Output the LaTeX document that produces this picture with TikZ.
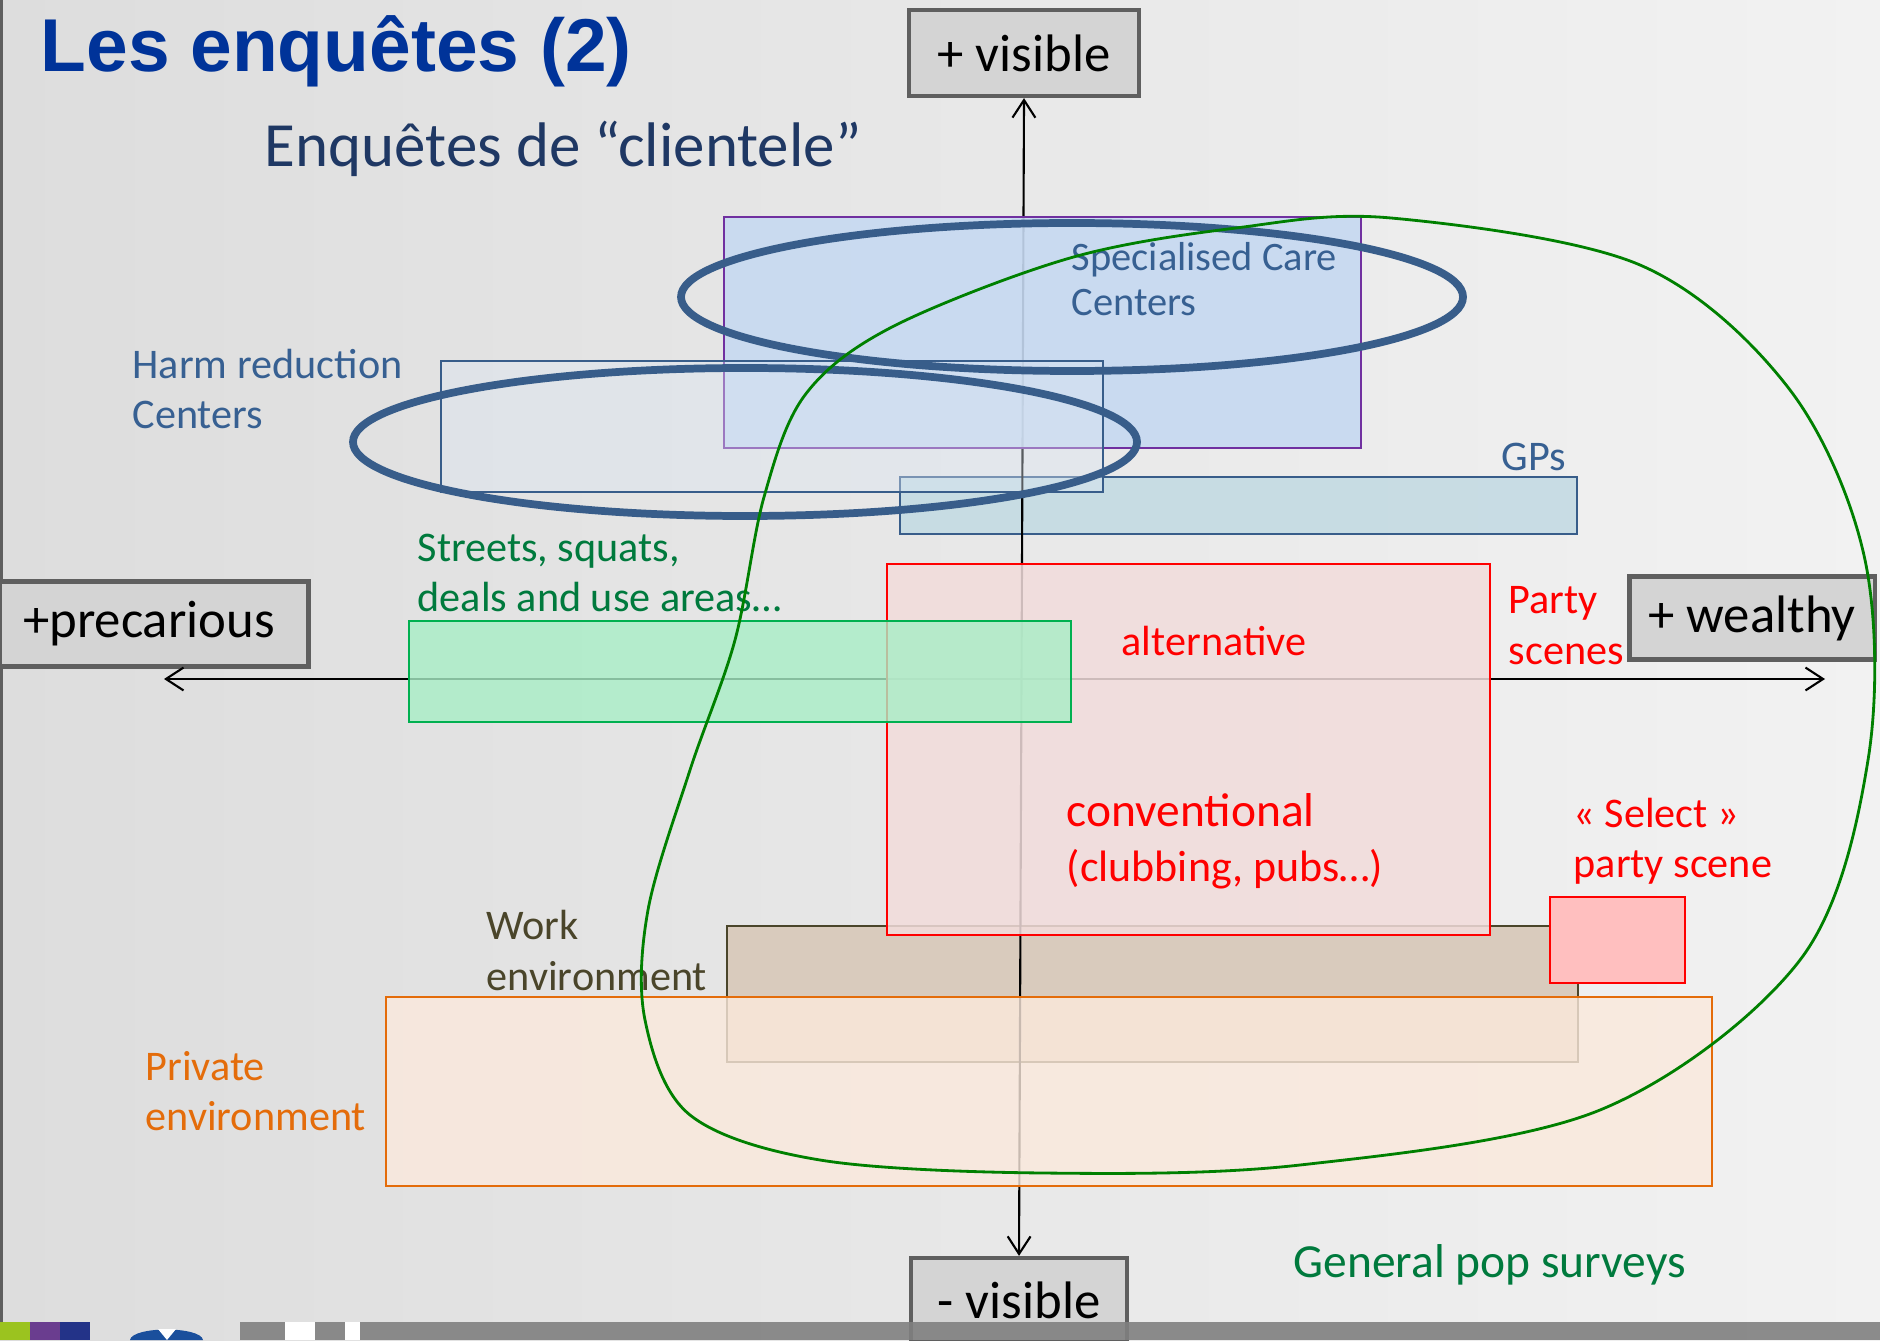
\documentclass[tikz,border=0pt]{standalone}
\usepackage{fontspec}
\setmainfont{Carlito}
\newfontfamily\headfont{Liberation Sans}
\usetikzlibrary{arrows.meta,positioning}

\definecolor{titleblue}{HTML}{003399}
\definecolor{subnavy}{HTML}{1F3864}
\definecolor{careblue}{HTML}{376092}
\definecolor{ringblue}{HTML}{385D8A}
\definecolor{carefill}{HTML}{C6D9F1}
\definecolor{careedge}{HTML}{7030A0}
\definecolor{harmfill}{HTML}{DCE6F2}
\definecolor{gpfill}{HTML}{C4DBE3}
\definecolor{streetfill}{HTML}{A8EEC6}
\definecolor{streetedge}{HTML}{00B050}
\definecolor{streettext}{HTML}{007A3D}
\definecolor{partyfill}{HTML}{F2DCDB}
\definecolor{selectfill}{HTML}{FFBFBF}
\definecolor{workfill}{HTML}{D9CBBD}
\definecolor{workedge}{HTML}{4A452A}
\definecolor{privfill}{HTML}{FBE9DC}
\definecolor{privedge}{HTML}{E46C0A}
\definecolor{loopgreen}{HTML}{008000}
\definecolor{axisfill}{HTML}{D4D4D4}
\definecolor{axisedge}{HTML}{5F5F5F}
\definecolor{bgleft}{HTML}{DDDDDD}
\definecolor{bgright}{HTML}{F2F2F2}
\definecolor{bargrey}{HTML}{808080}
\definecolor{sqgreen}{HTML}{9BC31F}
\definecolor{sqpurple}{HTML}{6A3D8F}
\definecolor{sqblue}{HTML}{233388}
\definecolor{logoblue}{HTML}{1A4F9C}

\begin{document}
\begin{tikzpicture}[
    x=0.01cm, y=-0.01cm,
    >={Straight Barb[length=5pt,width=6.5pt]},
    axisbox/.style={
      draw=axisedge,
      fill=axisfill,
      line width=1.2pt,
      inner sep=0,
      font=\fontsize{15}{18}\selectfont
    },
    zone/.style={line width=0.7pt},
    ring/.style={draw=ringblue, line width=2.2pt},
    lbl/.style={
      inner sep=0,
      anchor=base west,
      align=left,
      font=\fontsize{12}{14.5}\selectfont
    }
  ]

  \useasboundingbox (0,0) rectangle (1880,1340);
  \shade[left color=bgleft, right color=bgright] (0,0) rectangle (1880,1340);
  \fill[axisedge] (0,0) rectangle (3,1322);

  \node[axisbox, minimum width=2.3cm, minimum height=0.86cm] (plusvis) at (1024,53) {+ visible};
  \node[axisbox, minimum width=2.16cm, minimum height=0.84cm] (minusvis) at (1019,1300) {- visible};
  \node[axisbox, minimum width=3.09cm, minimum height=0.85cm] (precar) at (154,624) {\hspace*{-0.1cm}+precarious};
  \node[axisbox, minimum width=2.45cm, minimum height=0.83cm] (wealthy) at (1752,618) {+ wealthy};

  \draw[zone, draw=workedge, fill=workfill] (727,926) rectangle (1578,1062);
  \draw[zone, draw=ringblue, fill=gpfill, fill opacity=0.9] (900,477) rectangle (1577,534);

  \coordinate (west) at (164,679);
  \coordinate (east) at (1825,679);
  \draw[<->, line width=0.6pt] (west) -- (east);
  \draw[<->, line width=0.6pt] (minusvis.north) -- (plusvis.south);

  \draw[zone, draw=careedge, fill=carefill, fill opacity=0.9] (724,217) rectangle (1361,448);
  \draw[zone, draw=ringblue, fill=harmfill, fill opacity=0.4] (441,361) rectangle (1103,492);
  \draw[zone, draw=red, fill=partyfill, fill opacity=0.85] (887,564) rectangle (1490,935);
  \draw[zone, draw=streetedge, fill=streetfill, fill opacity=0.8] (409,621) rectangle (1071,722);
  \draw[zone, draw=privedge, fill=privfill, fill opacity=0.8] (386,997) rectangle (1712,1186);
  \draw[zone, draw=red, fill=selectfill] (1550,897) rectangle (1685,983);

  \draw[ring] (1072,297) ellipse [x radius=391, y radius=74];
  \draw[ring] (745,442) ellipse [x radius=392, y radius=74];

  \node[inner sep=0, anchor=base west, text=titleblue,
        font=\headfont\bfseries\fontsize{21.3}{25}\selectfont] (title) at (40,72) {Les enquêtes (2)};
  \node[lbl, font=\fontsize{17.9}{21}\selectfont, text=subnavy] (subtitle) at (264,167) {Enquêtes de “clientele”};
  \node[lbl, font=\fontsize{11.5}{12.8}\selectfont, text=careblue] (care) at (1071,316) {Specialised Care\\Centers};
  \node[lbl, text=careblue] (harm) at (132,429) {Harm reduction\\Centers};
  \node[lbl, text=careblue] (gps) at (1501,471) {GPs};
  \node[lbl, font=\fontsize{12}{14.2}\selectfont, text=streettext] (streets) at (417,611) {Streets, squats,\\deals and use areas…};
  \node[lbl, text=red] (altern) at (1121,655) {alternative};
  \node[lbl, text=red] (party) at (1508,664) {Party\\scenes};
  \node[lbl, font=\fontsize{12.5}{15.4}\selectfont, text=red] (conv) at (1066,881) {{\fontsize{13.5}{15.4}\selectfont conventional}\\(clubbing, pubs…)};
  \node[lbl, font=\fontsize{12}{14}\selectfont, text=red] (select) at (1573,877) {« Select »\\party scene};
  \node[lbl, text=workedge] (work) at (486,990) {Work\\environment};
  \node[lbl, font=\fontsize{12}{14.2}\selectfont, text=privedge] (priv) at (145,1130) {Private\\environment};
  \node[lbl, font=\fontsize{13.5}{16}\selectfont, text=streettext] (genpop) at (1293,1277) {General pop surveys};

  \draw[loopgreen, line width=0.8pt] plot[smooth cycle, tension=0.55] coordinates {
    (1391,218) (1640,265) (1790,390) (1865,560) (1868,760) (1800,960)
    (1600,1110) (1300,1165) (1043,1173) (820,1160) (690,1115) (645,1020)
    (648,910) (690,770) (735,640) (764,497) (805,395) (892,327)
    (1070,258) (1236,228)};

  \fill[sqgreen] (0,1322) rectangle (30,1340);
  \fill[sqpurple] (30,1322) rectangle (60,1340);
  \fill[sqblue] (60,1322) rectangle (90,1340);
  \fill[logoblue] (130,1340) .. controls (132,1326) and (201,1326) .. (203,1340) -- cycle;
  \fill[white] (158,1329) -- (167,1340) -- (176,1329) -- cycle;
  \fill[bargrey, opacity=0.9] (240,1322) rectangle (1880,1340);
  \fill[white] (285,1322) rectangle (315,1340);
  \fill[white] (345,1322) rectangle (360,1340);

\end{tikzpicture}
\end{document}
